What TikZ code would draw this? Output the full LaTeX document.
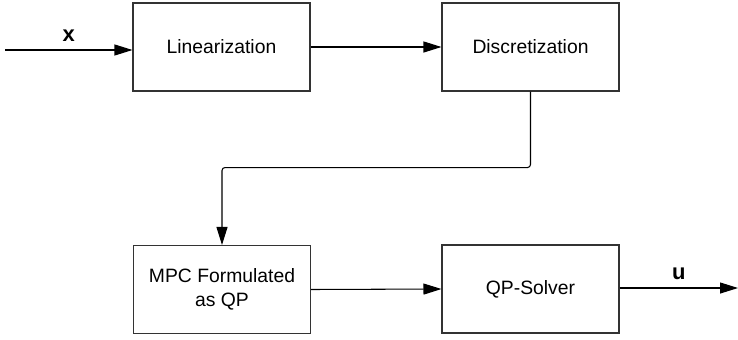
\documentclass[tikz,border=0pt]{standalone}
\usepackage{fontspec}
\setmainfont{Liberation Sans}
\usetikzlibrary{positioning, arrows.meta, calc}

\begin{document}
\begin{tikzpicture}[
        flow/.style={-{Triangle[length=0.36cm, width=0.22cm]}, line width=0.6pt, font=\fontsize{12.5}{14}\selectfont\bfseries},
        blk/.style={draw=black!80, line width=0.6pt, minimum width=3.54cm, minimum height=1.76cm, font=\fontsize{11}{13.5}\selectfont, align=center},
    ]
        \useasboundingbox (0,0) rectangle (14.76,-6.78);
        \node[blk] (L) at (4.43,-0.94)  {Linearization};
        \node[blk] (D) at (10.61,-0.94) {Discretization};
        \node[blk] (M) at (4.44,-5.79)  {MPC Formulated\\as QP};
        \node[blk] (Q) at (10.61,-5.78) {QP-Solver};
        \coordinate (in)  at (0.1,-1.0);
        \coordinate (out) at (14.76,-5.76);
        \draw[flow] (in) -- (in -| L.west) node[midway,above=1pt]{x};
        \draw[flow] (L.east) -- (D.west);
        \draw[flow, rounded corners=0.06cm] (D.south) -- ++(0,-1.52) -| (M.north);
        \draw[flow] (M.east) -- (Q.west);
        \draw[flow] (Q.east |- out) -- (out) node[midway,above=1pt]{u};
    \end{tikzpicture}
\end{document}
